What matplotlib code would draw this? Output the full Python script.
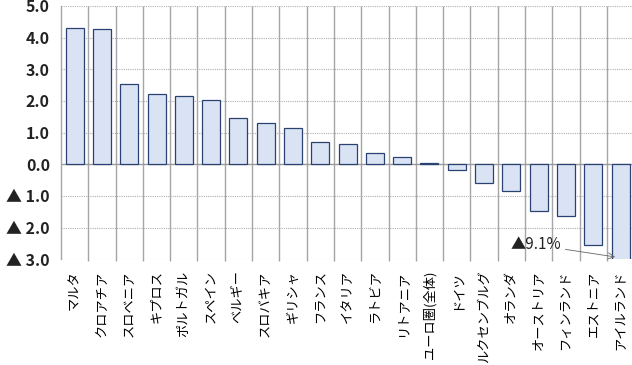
import numpy as np
import matplotlib
matplotlib.use('Agg')
import matplotlib.pyplot as plt

plt.rcParams['font.family'] = ['Noto Sans CJK JP', 'DejaVu Sans']

countries = ['マルタ', 'クロアチア', 'スロベニア', 'キプロス', 'ポルトガル', 'スペイン',
             'ベルギー', 'スロバキア', 'ギリシャ', 'フランス', 'イタリア', 'ラトビア',
             'リトアニア', 'ユーロ圏(全体)', 'ドイツ', 'ルクセンブルグ', 'オランダ',
             'オーストリア', 'フィンランド', 'エストニア', 'アイルランド']
growth = [4.29, 4.26, 2.54, 2.21, 2.15, 2.03, 1.47, 1.29, 1.16, 0.70, 0.63, 0.35,
          0.24, 0.05, -0.18, -0.60, -0.86, -1.47, -1.64, -2.54, -9.1]
yticks = [5, 4, 3, 2, 1, 0, -1, -2, -3]
ytick_labels = ['5.0', '4.0', '3.0', '2.0', '1.0', '0.0', '▲ 1.0', '▲ 2.0', '▲ 3.0']

fig = plt.figure(figsize=(6.32, 3.65), dpi=100)
ax = fig.add_axes([0.0965, 0.290, 0.907, 0.6936])

x = np.arange(len(countries))
ax.bar(x, growth, width=0.66, color='#dae3f3', edgecolor='#2a4272', linewidth=0.9, zorder=3)

ax.set_xlim(-0.5, len(countries) - 0.5)
ax.set_ylim(-3, 5)

# horizontal dotted grid, solid zero line
for v in yticks:
    if v == 0:
        ax.axhline(0, color='#9a9a9a', lw=1.0, zorder=2)
    else:
        ax.axhline(v, color='#b0b0b0', lw=0.8, ls=(0, (1, 1)), zorder=1)

# vertical category separators
ax.vlines(x[:-1] + 0.5, -3.05, 5, color='#a6a6a6', lw=1.0, zorder=1, clip_on=False)

ax.set_yticks(yticks)
ax.set_yticklabels(ytick_labels, fontsize=11.5, fontweight='bold', color='#222222')
ax.set_xticks(x)
ax.set_xticklabels(countries, rotation=90, fontsize=9.5, va='top')
ax.tick_params(axis='y', length=0, pad=8)
ax.tick_params(axis='x', length=0, pad=8)

for s in ['top', 'right', 'bottom']:
    ax.spines[s].set_visible(False)
ax.spines['left'].set_color('#a6a6a6')
ax.spines['left'].set_linewidth(1.0)

ax.annotate('▲9.1%', xy=(19.8, -2.93), xytext=(16.9, -2.55),
            fontsize=11, ha='center', va='center', color='#222222',
            arrowprops=dict(arrowstyle='->', color='#666666', lw=0.6,
                            shrinkA=1, shrinkB=0), zorder=5)

fig.savefig('out.png', dpi=100)
